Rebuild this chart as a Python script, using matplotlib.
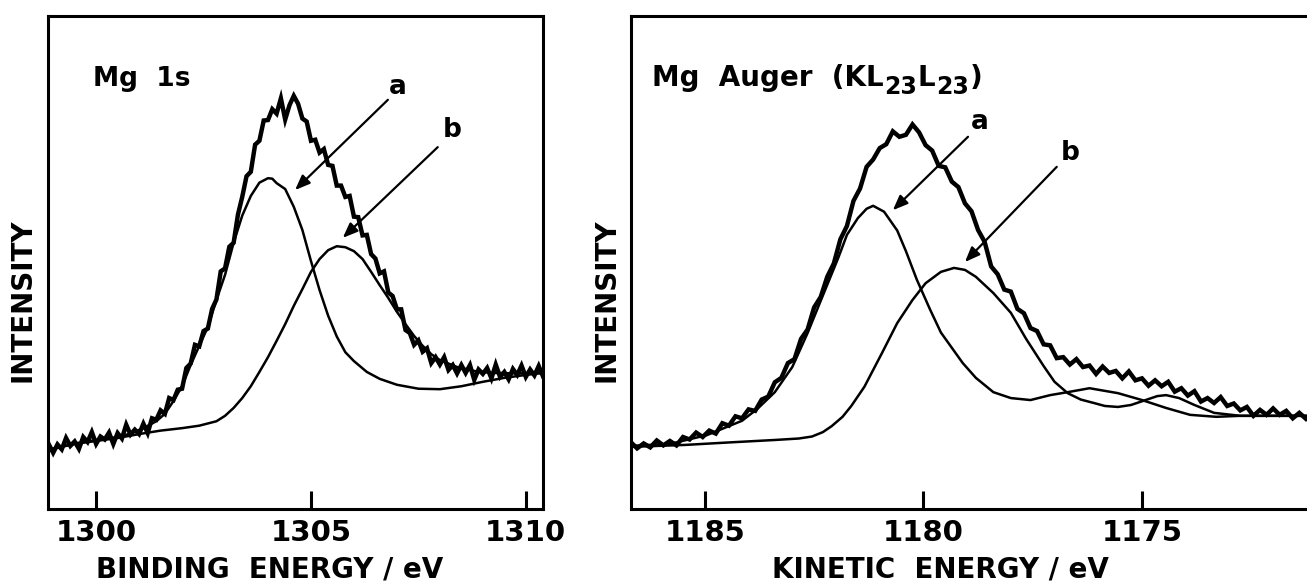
"""Mg 1s XPS and Mg KL23L23 Auger spectra with two-component fits (a, b)."""
import numpy as np
import matplotlib
matplotlib.use("Agg")
import matplotlib.pyplot as plt

# ---------------------------------------------------------------------------
# Data (intensity in arbitrary units).
# ---------------------------------------------------------------------------

# Mg 1s measured spectrum, 0.1 eV steps starting at 1298.9 eV binding energy
mg1s_start, mg1s_step = 1298.9, 0.1
mg1s_counts = [
    13.1, 11.4, 13.1, 12.1, 14.4, 12.8, 13.7, 12.2, 14.6, 13.6,
    15.6, 13.2, 14.7, 14.1, 15.5, 13.2, 15.4, 14.3, 17.1, 15.1,
    16.1, 15.2, 17.3, 15.4, 18.4, 18.1, 20.0, 19.3, 22.5, 22.1,
    24.2, 24.4, 28.6, 29.5, 33.3, 33.0, 36.1, 36.6, 40.6, 42.5,
    48.2, 48.8, 53.2, 54.0, 59.7, 63.3, 67.5, 68.4, 73.9, 74.7,
    78.8, 78.9, 81.1, 80.2, 83.3, 79.0, 81.9, 83.8, 82.2, 79.2,
    78.6, 74.7, 74.9, 72.3, 73.0, 69.8, 69.6, 65.6, 65.6, 63.3,
    63.5, 59.3, 59.2, 55.5, 55.6, 51.7, 50.8, 47.8, 48.2, 43.9,
    43.2, 40.5, 40.5, 36.3, 35.7, 33.3, 34.2, 31.9, 32.6, 29.6,
    30.8, 29.3, 30.8, 28.2, 29.2, 27.5, 29.2, 27.6, 29.2, 26.2,
    28.3, 27.4, 28.6, 26.5, 29.3, 26.8, 27.8, 26.3, 28.4, 27.2,
    29.1, 26.8, 28.3, 27.1, 29.0, 26.9,
]

# Mg 1s fitted component a (incl. background)
mg1s_a_be = [1298.9, 1299.5, 1300.0, 1300.5, 1300.8, 1301.1, 1301.4, 1301.6,
             1301.8, 1302.0, 1302.2, 1302.4, 1302.6, 1302.8, 1303.0, 1303.2,
             1303.4, 1303.6, 1303.8, 1304.0, 1304.1, 1304.2, 1304.4, 1304.6,
             1304.8, 1305.0, 1305.2, 1305.4, 1305.6, 1305.8, 1306.0, 1306.3,
             1306.6, 1307.0, 1307.5, 1308.0, 1308.5, 1309.0, 1309.5, 1310.0,
             1310.4]
mg1s_a = [12.0, 13.3, 14.0, 14.6, 15.3, 16.4, 17.8, 19.3,
          21.9, 24.9, 29.2, 33.1, 36.9, 42.4, 47.5, 54.0,
          59.5, 63.5, 66.2, 67.1, 67.0, 66.1, 64.9, 61.3,
          56.6, 50.3, 44.4, 39.2, 35.0, 31.8, 30.0, 27.8,
          26.4, 25.2, 24.4, 24.3, 24.9, 25.8, 26.6, 27.2,
          27.6]

# Mg 1s fitted component b (incl. background)
mg1s_b_be = [1298.9, 1299.5, 1300.0, 1300.5, 1301.0, 1301.5, 1302.0, 1302.4,
             1302.8, 1303.0, 1303.2, 1303.4, 1303.6, 1303.8, 1304.0, 1304.2,
             1304.4, 1304.6, 1304.8, 1305.0, 1305.2, 1305.4, 1305.6, 1305.8,
             1306.0, 1306.2, 1306.4, 1306.6, 1306.8, 1307.0, 1307.2, 1307.4,
             1307.6, 1307.8, 1308.0, 1308.4, 1308.8, 1309.2, 1309.8, 1310.4]
mg1s_b = [12.0, 13.2, 13.8, 14.4, 15.2, 15.9, 16.4, 16.9,
          17.8, 18.9, 20.5, 22.5, 24.9, 27.8, 30.8, 34.1,
          37.5, 41.2, 44.6, 48.1, 50.7, 52.5, 53.3, 53.1,
          52.3, 50.7, 48.1, 45.4, 42.8, 40.0, 37.5, 35.1,
          33.1, 31.4, 30.2, 28.8, 28.0, 27.6, 27.5, 27.6]

# Mg KL23L23 Auger measured spectrum, 0.15 eV steps down from 1186.7 eV kinetic energy
auger_start, auger_step = 1186.7, -0.15
auger_counts = [
    13.6, 12.3, 13.3, 12.5, 13.9, 12.9, 13.8, 12.9, 14.6, 14.1,
    15.5, 14.6, 15.9, 15.3, 17.4, 16.9, 18.8, 18.4, 20.2, 19.9,
    22.2, 22.8, 25.7, 26.6, 29.6, 30.4, 34.5, 36.4, 40.9, 43.0,
    47.1, 49.8, 54.7, 57.4, 62.5, 65.0, 69.4, 70.9, 73.2, 74.0,
    76.6, 75.5, 75.9, 78.0, 76.4, 73.8, 72.7, 69.6, 69.3, 66.4,
    65.3, 62.0, 60.4, 56.6, 54.2, 49.2, 47.6, 44.5, 44.1, 40.6,
    39.7, 36.7, 36.1, 33.4, 33.2, 30.6, 30.8, 29.3, 30.4, 28.8,
    29.1, 27.4, 28.9, 27.6, 28.0, 26.5, 27.9, 26.1, 26.5, 25.0,
    26.1, 24.9, 25.8, 23.8, 24.5, 23.0, 23.9, 21.8, 22.5, 21.5,
    22.7, 20.9, 21.4, 20.0, 20.7, 18.9, 20.1, 19.1, 20.4, 19.1,
    19.9, 18.4, 19.5, 18.3,
]

# Auger fitted component a
auger_a_ke = [1186.7, 1185.8, 1184.95, 1184.15, 1183.8, 1183.4, 1183.0, 1182.65,
              1182.25, 1181.95, 1181.75, 1181.5, 1181.3, 1181.15, 1180.9, 1180.6,
              1180.4, 1180.15, 1179.85, 1179.6, 1179.1, 1178.8, 1178.4, 1178.0,
              1177.55, 1177.1, 1176.7, 1176.2, 1175.55, 1175.0, 1174.45, 1173.9,
              1173.3, 1172.75, 1172.05, 1171.1]
auger_a = [12.8, 13.2, 15.0, 17.9, 20.3, 23.7, 28.8, 35.7,
           44.4, 50.9, 55.6, 59.0, 60.9, 61.5, 60.3, 56.5,
           52.3, 46.5, 40.5, 35.8, 29.6, 26.6, 23.7, 22.5,
           22.1, 23.1, 23.7, 24.5, 23.5, 22.1, 20.5, 19.1,
           18.7, 18.9, 18.9, 18.9]

# Auger fitted component b
auger_b_ke = [1186.7, 1185.45, 1184.45, 1183.4, 1182.85, 1182.55, 1182.3, 1182.1,
              1181.85, 1181.65, 1181.35, 1180.95, 1180.6, 1180.25, 1179.95, 1179.6,
              1179.3, 1179.05, 1178.8, 1178.4, 1178.0, 1177.65, 1177.25, 1177.0,
              1176.7, 1176.4, 1176.1, 1175.85, 1175.55, 1175.25, 1175.05, 1174.65,
              1174.45, 1174.15, 1173.8, 1173.35, 1172.75, 1172.05, 1171.1]
auger_b = [12.6, 13.0, 13.5, 14.0, 14.3, 14.7, 15.6, 16.8,
           18.7, 20.9, 24.8, 31.6, 37.7, 42.4, 45.8, 48.1,
           48.9, 48.5, 47.1, 43.8, 39.8, 34.5, 29.0, 25.8,
           23.5, 22.2, 21.5, 20.9, 20.7, 21.1, 21.7, 22.9,
           23.1, 22.5, 21.1, 19.5, 18.9, 18.9, 18.9]

mg1s_ticks = [1300, 1305, 1310]
auger_ticks = [1185, 1180, 1175]

# ---------------------------------------------------------------------------
# Style
# ---------------------------------------------------------------------------

plt.rcParams.update({
    "font.family": "DejaVu Sans",
    "font.weight": "bold",
    "axes.linewidth": 2.2,
})

TRACE_LW = 3.2
FIT_LW = 1.8
ARROW = dict(arrowstyle="-|>,head_length=0.45,head_width=0.18",
             lw=1.6, color="black", shrinkA=0, shrinkB=0, mutation_scale=20)


def style_axes(ax, ticks, xlim):
    ax.set_xlim(*xlim)
    ax.set_ylim(0, 100)
    ax.set_xticks(ticks)
    ax.set_xticklabels([str(t) for t in ticks], fontsize=21, fontweight="bold")
    ax.set_yticks([])
    ax.tick_params(axis="x", direction="in", length=13, width=2.2, pad=7,
                   top=False, bottom=True)


def label_letter(ax, head, tail, pos, letter):
    ax.annotate("", xy=head, xytext=tail, arrowprops=ARROW)
    ax.text(*pos, letter, fontsize=19, fontweight="bold", ha="center", va="center")


fig = plt.figure(figsize=(13.07, 5.83), dpi=100)

# --- Mg 1s -----------------------------------------------------------------
ax1 = fig.add_axes([48 / 1307, 74 / 583, 495 / 1307, 493 / 583])
be = mg1s_start + mg1s_step * np.arange(len(mg1s_counts))
ax1.plot(be, mg1s_counts, color="black", lw=TRACE_LW, solid_joinstyle="miter")
ax1.plot(mg1s_a_be, mg1s_a, color="black", lw=FIT_LW)
ax1.plot(mg1s_b_be, mg1s_b, color="black", lw=FIT_LW)
style_axes(ax1, mg1s_ticks, (1298.88, 1310.40))

ax1.text(0.091, 0.858, "Mg  1s", transform=ax1.transAxes, fontsize=19,
         fontweight="bold", va="baseline")
label_letter(ax1, (1304.63, 64.7), (1306.79, 83.0), (1307.02, 85.6), "a")
label_letter(ax1, (1305.74, 55.0), (1307.95, 73.4), (1308.28, 76.9), "b")

ax1.set_xlabel("BINDING  ENERGY / eV", fontsize=20, fontweight="bold")
ax1.xaxis.set_label_coords(0.4485, -0.095)
ax1.set_ylabel("INTENSITY", fontsize=20, fontweight="bold")
ax1.yaxis.set_label_coords(-0.024, 0.424)

# --- Mg Auger --------------------------------------------------------------
ax2 = fig.add_axes([631 / 1307, 74 / 583, 681 / 1307, 493 / 583])
ke = auger_start + auger_step * np.arange(len(auger_counts))
ax2.plot(ke, auger_counts, color="black", lw=TRACE_LW, solid_joinstyle="miter")
ax2.plot(auger_a_ke, auger_a, color="black", lw=FIT_LW)
ax2.plot(auger_b_ke, auger_b, color="black", lw=FIT_LW)
style_axes(ax2, auger_ticks, (1186.69, 1171.11))

# title with near full-size subscripts: KL23L23
t_main = ax2.text(0.031, 0.845, "Mg  Auger  (KL", transform=ax2.transAxes,
                  fontsize=20, fontweight="bold", va="bottom")
t_sub1 = ax2.annotate("23", xy=(1, 0), xycoords=t_main, xytext=(0.5, -5),
                      textcoords="offset points", fontsize=17, fontweight="bold",
                      va="bottom", ha="left")
t_l2 = ax2.annotate("L", xy=(1, 0), xycoords=(t_sub1, t_main), xytext=(0.5, 0),
                    textcoords="offset points", fontsize=20, fontweight="bold",
                    va="bottom", ha="left")
t_sub2 = ax2.annotate("23", xy=(1, 0), xycoords=(t_l2, t_main), xytext=(0.5, -5),
                      textcoords="offset points", fontsize=17, fontweight="bold",
                      va="bottom", ha="left")
ax2.annotate(")", xy=(1, 0), xycoords=(t_sub2, t_main), xytext=(0.5, 0),
             textcoords="offset points", fontsize=20, fontweight="bold",
             va="bottom", ha="left")

label_letter(ax2, (1180.70, 60.6), (1178.98, 75.5), (1178.71, 78.5), "a")
label_letter(ax2, (1179.05, 50.1), (1176.95, 69.4), (1176.65, 72.2), "b")

ax2.set_xlabel("KINETIC  ENERGY / eV", fontsize=20, fontweight="bold")
ax2.xaxis.set_label_coords(0.4537, -0.095)
ax2.set_ylabel("INTENSITY", fontsize=20, fontweight="bold")
ax2.yaxis.set_label_coords(-0.016, 0.424)

fig.savefig("out.png", dpi=100)
